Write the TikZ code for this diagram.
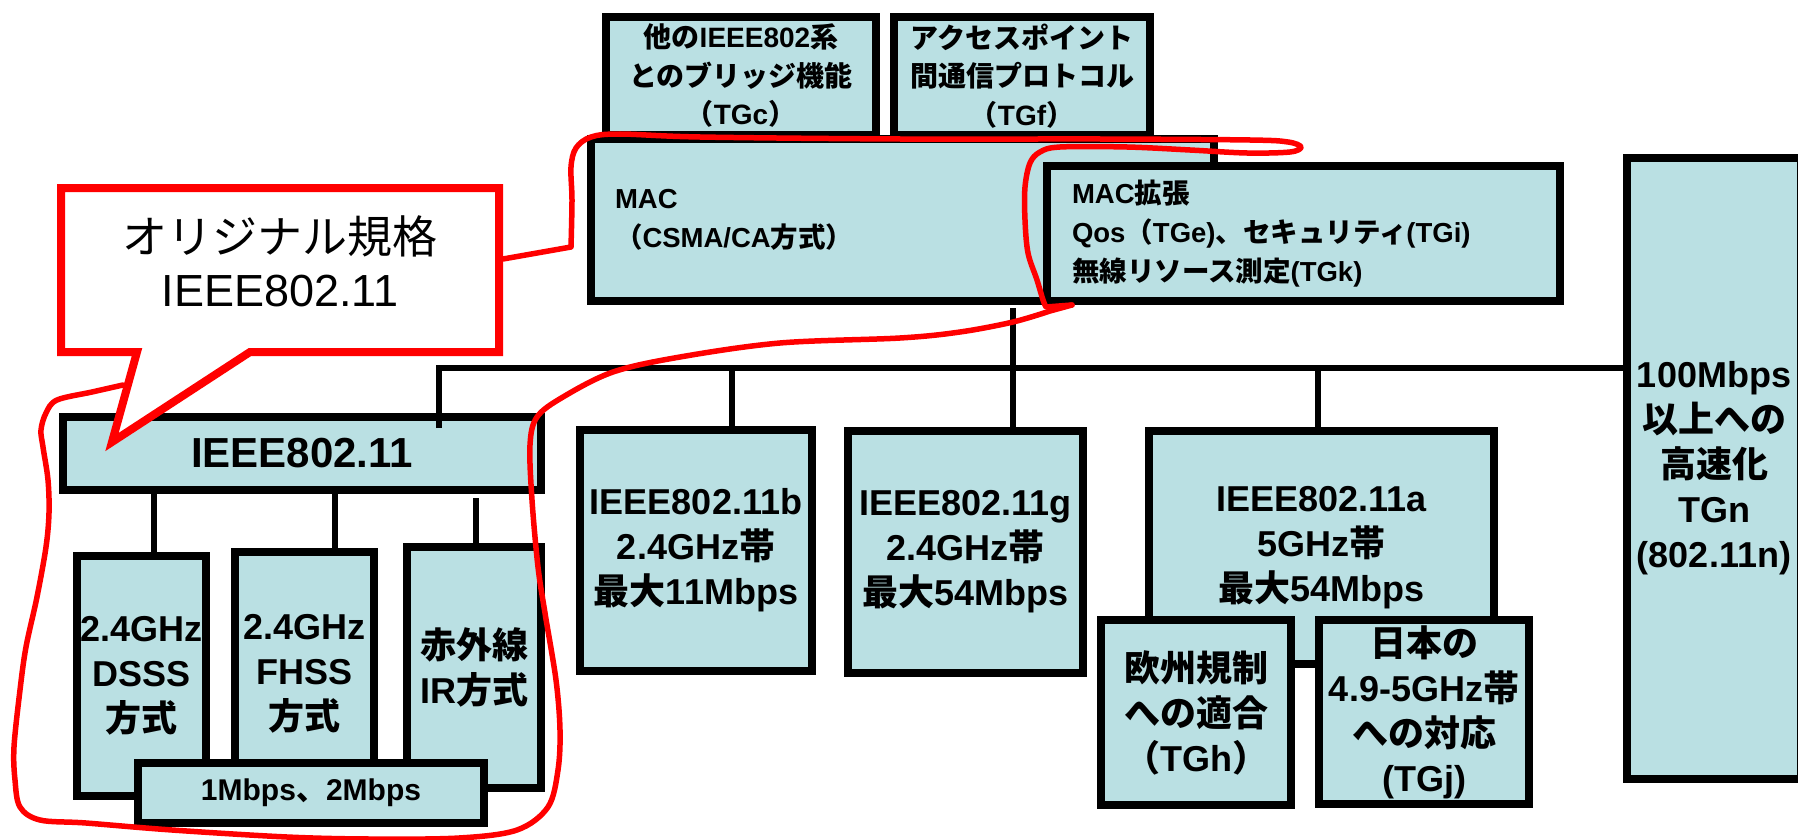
\documentclass[tikz,border=0pt]{standalone}
\usepackage{fontspec}
\setmainfont{Liberation Sans}
\newfontfamily\jpfont{Noto Sans CJK JP}
\XeTeXinterchartokenstate=1
\newXeTeXintercharclass\jpclass
\count255="3000
\loop \XeTeXcharclass\count255=\jpclass \advance\count255 by 1 \ifnum\count255<"A000 \repeat
\count255="FF00
\loop \XeTeXcharclass\count255=\jpclass \advance\count255 by 1 \ifnum\count255<"FFF0 \repeat
\count255=32
\loop \XeTeXcharclass\count255=0 \advance\count255 by 1 \ifnum\count255<127 \repeat
\XeTeXinterchartoks 0 \jpclass = {\jpfont}
\XeTeXinterchartoks 4095 \jpclass = {\jpfont}
\XeTeXinterchartoks \jpclass 0 = {\rmfamily}
\XeTeXinterchartoks \jpclass 4095 = {\rmfamily}
\definecolor{boxfill}{RGB}{186,224,227}
\definecolor{calred}{RGB}{255,0,0}
\tikzset{
  bx/.style={draw=black, line width=8pt, fill=boxfill, inner sep=0pt, align=center,
             font=\fontsize{36}{45}\selectfont\bfseries},
  topfont/.style={font=\fontsize{28}{38.5}\selectfont\bfseries},
  macfont/.style={font=\fontsize{27.5}{39}\selectfont\bfseries},
  conn/.style={draw=black, line width=5.5pt},
  loopline/.style={draw=calred, line width=5.5pt, line cap=round, line join=round},
  callout/.style={draw=calred, line width=8pt, fill=white, line join=miter},
}
\begin{document}
\begin{tikzpicture}[x=1pt,y=-1pt]
\useasboundingbox (0,0) rectangle (1798,840);
\clip (0,0) rectangle (1798,840);
% top boxes
\node[bx, topfont, minimum width=270pt, minimum height=118pt] (TGc) at (741,76) {他のIEEE802系\\とのブリッジ機能\\（TGc）};
\node[bx, topfont, minimum width=256pt, minimum height=118pt] (TGf) at (1022,76) {アクセスポイント\\間通信プロトコル\\（TGf）};
\node[bx, macfont, minimum width=623pt, minimum height=162pt, text width=575pt, align=left] (MAC) at (902.5,220) {MAC\\（CSMA/CA方式）};
\node[bx, macfont, minimum width=513pt, minimum height=135pt, text width=463pt, align=left] (MACx) at (1303.5,233.5) {MAC拡張\\Qos（TGe)、セキュリティ(TGi)\\無線リソース測定(TGk)};
\node[bx, minimum width=174pt, minimum height=621pt] (TGn) at (1714,468.5) {100Mbps\\以上への\\高速化\\TGn\\(802.11n)};
% IEEE802.11 family
\node[bx, font=\fontsize{42}{50}\selectfont\bfseries, minimum width=478pt, minimum height=73pt] (base) at (302,453.5) {IEEE802.11};
\node[bx, minimum width=129pt, minimum height=240pt] (DSSS) at (141.5,676) {2.4GHz\\DSSS\\方式};
\node[bx, minimum width=139pt, minimum height=244pt] (FHSS) at (304.5,674) {2.4GHz\\FHSS\\方式};
\node[bx, minimum width=134pt, minimum height=241pt] (IR) at (474,667.5) {赤外線\\IR方式};
\node[bx, font=\fontsize{30}{36}\selectfont\bfseries, minimum width=346pt, minimum height=60pt] (rate) at (311,793) {1Mbps、2Mbps};
% b g a
\node[bx, minimum width=232pt, minimum height=241pt] (b) at (696,550.5) {IEEE802.11b\\2.4GHz帯\\最大11Mbps};
\node[bx, minimum width=235pt, minimum height=242pt] (g) at (965.5,552) {IEEE802.11g\\2.4GHz帯\\最大54Mbps};
\node[bx, minimum width=345pt, minimum height=233pt] (a) at (1321.5,547.5) {IEEE802.11a\\5GHz帯\\最大54Mbps};
\node[bx, minimum width=190pt, minimum height=185pt] (TGh) at (1196,712.5) {欧州規制\\への適合\\（TGh）};
\node[bx, minimum width=210pt, minimum height=184pt] (TGj) at (1424,712) {日本の\\4.9-5GHz帯\\への対応\\(TGj)};
% connectors
\coordinate (busL) at (439,368);
\coordinate (dropA) at (439,428);
\coordinate (macdrop) at (1013,308);
\coordinate (bdrop) at (732,368);
\coordinate (adrop) at (1318,368);
\draw[conn] (dropA) -- (busL) -- (TGn.west |- busL);
\draw[conn] (macdrop) -- (macdrop |- g.north);
\draw[conn] (bdrop) -- (bdrop |- b.north);
\draw[conn] (adrop) -- (adrop |- a.north);
\coordinate (d1) at (154,494);
\coordinate (d2) at (335,494);
\coordinate (d3) at (476,498);
\draw[conn] (d1) -- (d1 |- DSSS.north);
\draw[conn] (d2) -- (d2 |- FHSS.north);
\draw[conn] (d3) -- (d3 |- IR.north);
% red free-hand loops
\coordinate (calloutR) at (503,259);
\coordinate (hook) at (1072,305);
\draw[loopline] (calloutR) -- plot[smooth, tension=0.55] coordinates {(571,247) (572,200) (571,167) (576,148) (591,137) (620,134) (700,137) (900,139) (1100,139) (1250,140) (1288,142) (1301,147) (1290,152) (1247,153) (1190,150) (1127,147) (1060,147) (1040,152) (1030,163) (1025,187) (1025,220) (1028,253) (1037,280) (1043,300) (1046,307)} -- (hook);
\draw[loopline] (hook) -- plot[smooth, tension=0.55] coordinates {(1050,311) (1013,322) (960,332) (900,338) (780,343) (680,357) (613,372) (563,397) (537,417) (530,445) (532,500) (538,567) (545,613) (556,680) (560,730) (558,770) (548,807) (517,830) (459,838) (370,839) (287,837) (172,830) (86,823) (40,820) (20,807) (15,780) (14,747) (20,690) (26,647) (37,597) (46,547) (49,513) (48,480) (43,447) (41,430) (46,413) (57,400) (92,392) (123,385)};
% callout
\draw[callout] (61,188) -- (499,188) -- (499,352) -- (250,352) -- (112,442) -- (137,352) -- (61,352) -- cycle;
\node[font=\fontsize{45}{53}\selectfont, align=center, inner sep=0pt] (callouttext) at (280,261) {オリジナル規格\\IEEE802.11};
\end{tikzpicture}
\end{document}
